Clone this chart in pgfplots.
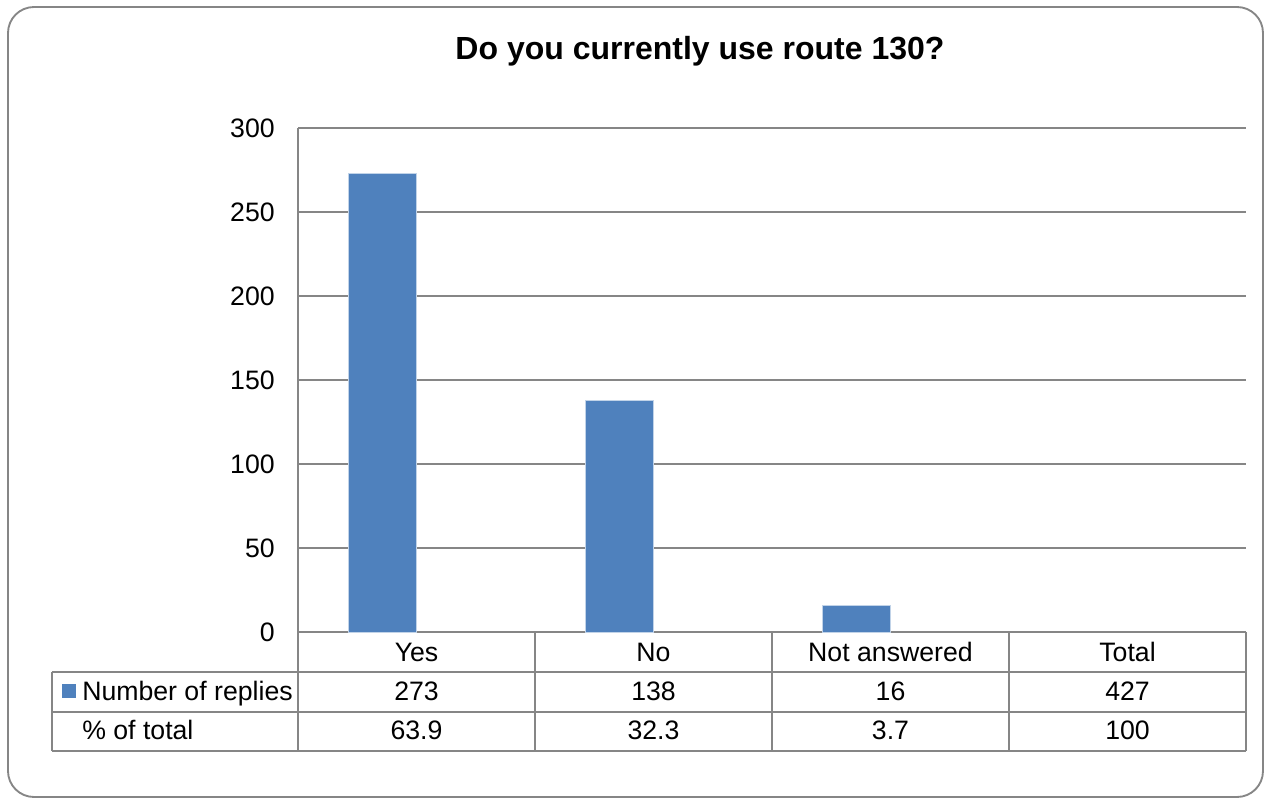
\documentclass[border=0pt]{standalone}
\usepackage{pgfplots}
\pgfplotsset{compat=1.18}
\usepackage{pgfplotstable}
\usepackage{fontspec}
\setmainfont{Liberation Sans}
\definecolor{barblue}{HTML}{4F81BD}
\definecolor{rulegray}{RGB}{134,134,134}

% Replies per answer (bars are drawn for the three answers, not the total)
\pgfplotstableread{
x   n
0.5 273
1.5 138
2.5 16
}\replies

\begin{document}
\begin{tikzpicture}
% pixel-like grid: 1 unit = 0.75pt, y pointing down
\begin{scope}[x=0.75pt,y=-0.75pt]
  \useasboundingbox (0,0) rectangle (1268,803);
  \draw[rulegray, line width=1.4pt, rounded corners=19.5pt] (8,7) rectangle (1263,797);
  \node[font=\fontsize{24}{28}\selectfont\bfseries, anchor=base] at (700,59.5) {Do you currently use route 130?};
\end{scope}

\begin{axis}[
  at={(223.5pt,-474pt)}, anchor=south west,
  scale only axis, width=711pt, height=378pt,
  xmin=0, xmax=4, ymin=0, ymax=300,
  ytick={0,50,...,300},
  xtick={0.5,1.5,2.5,3.5},
  xticklabels={Yes,No,Not answered,Total},
  ymajorgrids,
  grid style={rulegray, line width=1.2pt},
  axis x line=bottom, axis y line=left,
  axis line style={rulegray, line width=1.2pt, -},
  major tick length=0pt,
  /pgf/number format/assume math mode=true,
  ticklabel style={font=\fontsize{20}{24}\selectfont},
  yticklabel style={anchor=east, inner sep=0pt, xshift=-17.25pt},
  xticklabel style={anchor=base, inner sep=0pt, yshift=-21.75pt},
  clip=false,
]
\addplot[ybar, fill=barblue, draw=white!65!barblue, line width=0.5pt,
         bar width=51pt, bar shift=-25.5pt] table[x=x, y=n] {\replies};
\end{axis}

% data table under the plot
\begin{scope}[x=0.75pt,y=-0.75pt]
  \draw[rulegray, line width=1.2pt]
    (52,672) -- (1246,672)
    (52,712) -- (1246,712)
    (52,751) -- (1246,751)
    (52,672) -- (52,751);
  \foreach \c in {298,535,772,1009,1246}
    \draw[rulegray, line width=1.2pt] (\c,632) -- (\c,751);
  \fill[barblue] (62,684) rectangle (76,698);
  \begin{scope}[every node/.style={font=\fontsize{20}{24}\selectfont, inner sep=0pt}]
    \node[anchor=base west] at (82,700) {Number of replies};
    \node[anchor=base west] at (82,739) {\% of total};
    \foreach \cx/\a/\b in {416.5/273/63.9, 653.5/138/32.3, 890.5/16/3.7, 1127.5/427/100} {
      \node[anchor=base] at (\cx,700) {\a};
      \node[anchor=base] at (\cx,739) {\b};
    }
  \end{scope}
\end{scope}
\end{tikzpicture}
\end{document}
